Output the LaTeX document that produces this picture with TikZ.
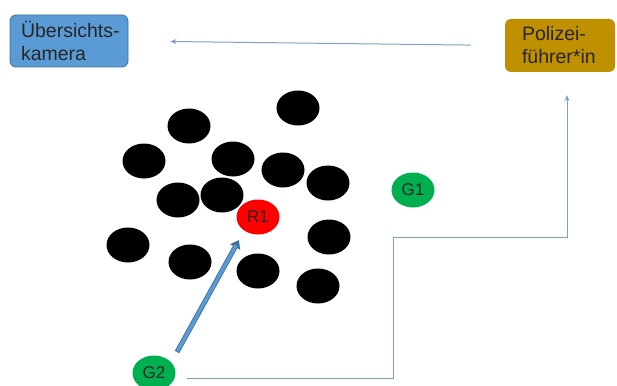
\documentclass[tikz,border=0pt]{standalone}
\usepackage{fontspec}
\setmainfont{Liberation Sans}
\usetikzlibrary{shapes.geometric,arrows.meta}
\definecolor{camblue}{HTML}{5B9BD5}
\definecolor{camedge}{HTML}{41719C}
\definecolor{gold}{HTML}{BF9000}
\definecolor{grn}{HTML}{00B050}
\definecolor{linkblue}{HTML}{7F9FC6}
\definecolor{ink}{HTML}{262626}
\tikzset{
  box/.style={rounded corners=6pt, align=left, text=ink, inner ysep=0pt,
    font=\fontsize{19.5}{23}\selectfont},
  crowd/.style={ellipse, fill=black, minimum width=43pt, minimum height=35pt, inner sep=0pt},
  person/.style={ellipse, minimum width=43pt, minimum height=35pt, inner sep=0pt,
    text=ink, font=\fontsize{17}{20}\selectfont},
  link/.style={draw=linkblue, line width=1pt},
  linkarrow/.style={link, -{Stealth[length=6pt,width=5pt]}},
}
\begin{document}
\begin{tikzpicture}[x=1pt,y=-1pt]
\useasboundingbox (0,0) rectangle (617,385);

% control stations
\node[box, fill=camblue, draw=camedge, line width=0.8pt,
      minimum width=118pt, minimum height=52pt, text width=96pt, inner xsep=11pt]
  (cam) at (69,41) {\mbox{Übersichts-}\\kamera};
\node[box, fill=gold,
      minimum width=110pt, minimum height=53pt, text width=76pt, inner xsep=17pt]
  (lead) at (560,45.5) {\mbox{Polizei-}\\\mbox{führer*in}};

% crowd
\foreach \n/\x/\y in {c1/298/108, c2/189/126, c3/144/161, c4/233/159, c5/283/170,
  c6/328/183, c7/178/200, c8/222/195, c9/128/245, c10/190/262, c11/329/237,
  c12/258/271, c13/318/286}
  \node[crowd] (\n) at (\x,\y) {};

% persons
\node[person, fill=red] (R1) at (258,217) {R1};
\node[person, fill=grn] (G1) at (413,190) {G1};
\node[person, fill=grn] (G2) at (154,373) {G2};

% report path G2 -> lead
\coordinate (g2out) at (187,378);
\coordinate (bend1) at (393,378);
\coordinate (bend2) at (393,237);
\coordinate (bend3) at (567,237);
\draw[linkarrow, shorten >=23pt] (g2out) -- (bend1) -- (bend2) -- (bend3) -- (bend3 |- lead.south);

% lead -> camera
\draw[linkarrow, shorten <=34pt, shorten >=42pt] (lead.west) -- (cam.east);

% G2 approaches R1
\coordinate (g2move) at (177,352);
\coordinate (r1reach) at (239,240);
\draw[camedge, line width=5pt, -{Triangle[length=8pt,width=11pt]}] (g2move) -- (r1reach);
\draw[camblue, line width=3.2pt, shorten >=6pt, shorten <=0.9pt] (g2move) -- (r1reach);
\end{tikzpicture}
\end{document}
